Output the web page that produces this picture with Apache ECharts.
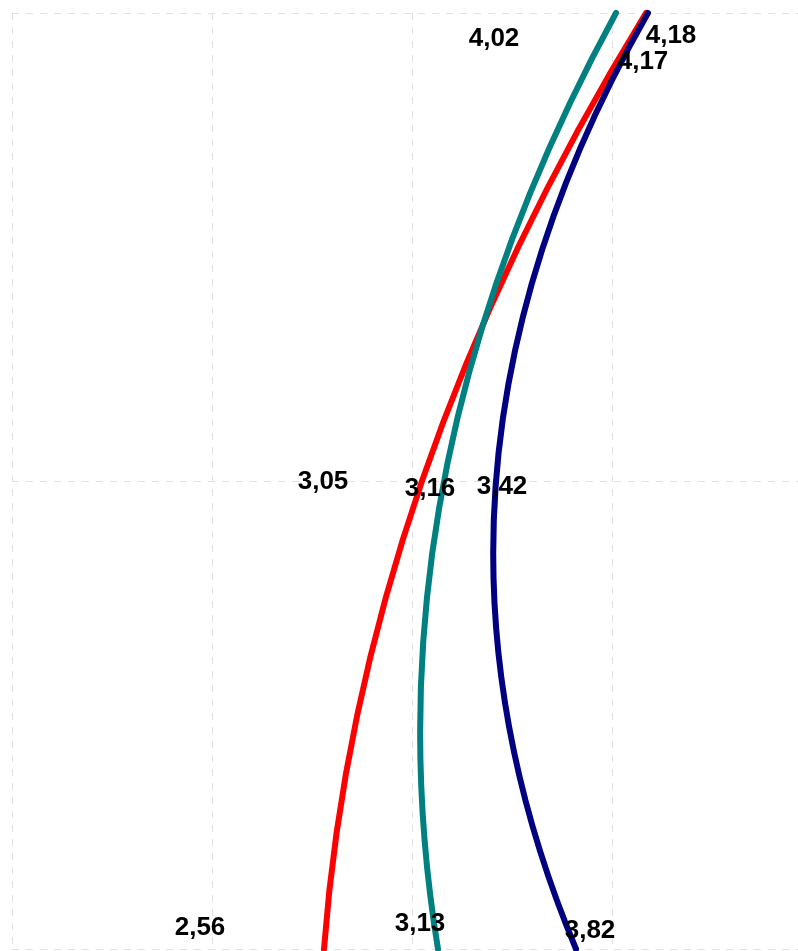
<!DOCTYPE html>
<html>
<head>
<meta charset="utf-8">
<script src="https://cdn.jsdelivr.net/npm/echarts@6/dist/echarts.min.js"></script>
<style>
html,body{margin:0;padding:0;background:#fff;}
#chart{width:798px;height:951px;}
</style>
</head>
<body>
<div id="chart"></div>
<script>
// categories from bottom to top
const categories = ['1', '2', '3'];
const redValues = [2.56, 3.05, 4.17];
const tealValues = [3.13, 3.16, 4.02];
const navyValues = [3.82, 3.42, 4.18];
const xTicks = [1, 2, 3, 4, 5];

// label placement (pixels relative to each point)
const redLabelOffsets = [[-124, -21], [-99, 1], [-3, 49]];
const tealLabelOffsets = [[-18, -25], [-14, 8], [-122, 26]];
const navyLabelOffsets = [[14, -18], [6, 6], [23, 23]];

function fmt(v) { return v.toFixed(2).replace('.', ','); }

const lineDefs = [
  { name: 'red', values: redValues, offsets: redLabelOffsets, color: '#ff0000' },
  { name: 'teal', values: tealValues, offsets: tealLabelOffsets, color: '#008080' },
  { name: 'navy', values: navyValues, offsets: navyLabelOffsets, color: '#000080' }
];

// smooth curve through the points (quadratic interpolation, as in the reference)
function curveSeries(def) {
  return {
    name: def.name,
    type: 'custom',
    coordinateSystem: 'cartesian2d',
    clip: false,
    silent: true,
    encode: { x: 0, y: 1 },
    data: def.values.map((v, i) => [v, i]),
    renderItem: function (params, api) {
      if (params.dataIndex !== 0) return null;
      const pts = def.values.map((v, i) => api.coord([v, i]));
      const p0 = pts[0], p1 = pts[1], p2 = pts[2];
      const cx = 2 * p1[0] - (p0[0] + p2[0]) / 2;
      const cy = 2 * p1[1] - (p0[1] + p2[1]) / 2;
      return {
        type: 'bezierCurve',
        shape: { x1: p0[0], y1: p0[1], x2: p2[0], y2: p2[1], cpx1: cx, cpy1: cy },
        style: { stroke: def.color, lineWidth: 6, fill: null, lineCap: 'round' }
      };
    }
  };
}

const labelData = [];
lineDefs.forEach(def => {
  def.values.forEach((v, i) => {
    labelData.push([v, i, def.offsets[i][0], def.offsets[i][1]]);
  });
});

const labelSeries = {
  name: 'labels',
  type: 'custom',
  coordinateSystem: 'cartesian2d',
  clip: false,
  silent: true,
  z: 10,
  encode: { x: 0, y: 1 },
  data: labelData,
  renderItem: function (params, api) {
    const v = api.value(0);
    const p = api.coord([v, api.value(1)]);
    return {
      type: 'text',
      x: p[0] + api.value(2),
      y: p[1] + api.value(3),
      style: {
        text: fmt(v),
        fill: '#000',
        font: 'bold 26px "Liberation Sans", Arial, sans-serif',
        align: 'center',
        verticalAlign: 'middle'
      }
    };
  }
};

const chart = echarts.init(document.getElementById('chart'), null, { renderer: 'canvas' });
chart.setOption({
  animation: false,
  grid: { left: 12, width: 800, top: 13, bottom: 2, containLabel: false, outerBoundsMode: 'none' },
  xAxis: {
    type: 'value',
    min: xTicks[0],
    max: xTicks[xTicks.length - 1],
    interval: 1,
    axisLine: { show: false },
    axisTick: { show: false },
    axisLabel: { show: false },
    splitLine: { show: true, lineStyle: { color: '#e0e0e0', type: [7, 7], width: 1 } }
  },
  yAxis: {
    type: 'category',
    data: categories,
    boundaryGap: false,
    axisLine: { show: false },
    axisTick: { show: false },
    axisLabel: { show: false },
    splitLine: { show: true, lineStyle: { color: '#e0e0e0', type: [7, 7], width: 1 } }
  },
  series: lineDefs.map(curveSeries).concat([labelSeries])
});
</script>
</body>
</html>
